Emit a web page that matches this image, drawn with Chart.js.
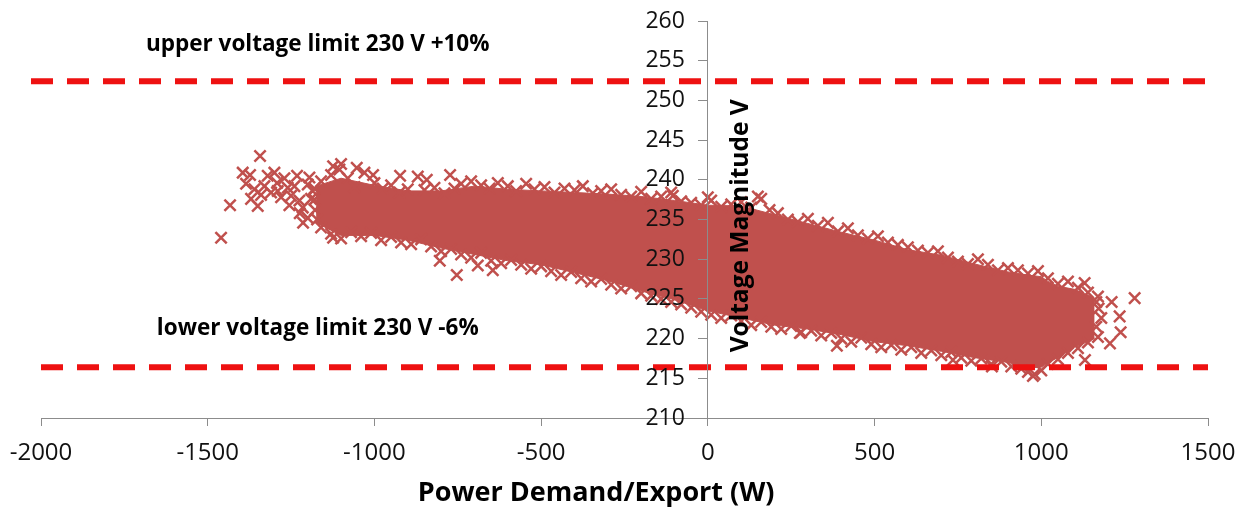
<!DOCTYPE html>
<html>
<head>
<meta charset="utf-8">
<script src="https://cdn.jsdelivr.net/npm/chart.js@4/dist/chart.umd.min.js"></script>
<style>
  body { margin: 0; background: #fff; }
  canvas { display: block; }
</style>
</head>
<body>
<canvas id="myChart" width="1240" height="508"></canvas>
<script>
// axis ranges (W and V)
const xMin = -2000, xMax = 1500, xStep = 500;
const yMin = 210, yMax = 260, yStep = 5;

// voltage limits
const upperLimit = 252.4;
const lowerLimit = 216.4;
const upperLimitX = [-2030, 1525];
const lowerLimitX = [-2000, 1500];

// dense core of the cloud: lower / upper envelope at each power value
const bandX     = [-1175, -1100, -1000, -900, -800, -700, -600, -500, -400, -300, -200, -100,     0,   100,   200,   300,   400,   500,   600,   700,   800,   900,   960,  1000,  1020,  1050,  1100,  1160];
const bandLower = [234.6, 233.0, 233.0, 232.4, 231.4, 230.6, 229.8, 229.3, 228.3, 227.3, 226.0, 224.9, 223.5, 222.6, 221.7, 221.2, 220.5, 219.6, 219.1, 218.4, 217.6, 217.0, 216.3, 216.4, 217.0, 217.6, 218.9, 220.0];
const bandUpper = [239.2, 240.2, 239.3, 238.6, 238.6, 239.2, 238.8, 238.6, 238.4, 238.2, 237.9, 237.4, 236.8, 236.7, 235.6, 234.5, 233.4, 232.4, 231.2, 230.5, 229.4, 228.4, 228.0, 227.8, 227.2, 226.6, 226.2, 225.1];

// single measurements along the top edge of the cloud
const upperEdge = [
  [-1160,239.8],[-1130,240.6],[-1105,241.3],[-1080,240.2],[-1060,239.1],[-1030,240.9],[-1000,239.6],[-975,238.9],
  [-950,239.3],[-925,238.4],[-900,238.8],[-870,240.4],[-850,238.7],[-820,239.0],[-790,238.3],[-760,238.9],
  [-740,239.5],[-710,239.8],[-680,239.3],[-655,238.9],[-630,239.6],[-600,239.2],[-575,238.6],[-545,239.5],
  [-520,238.8],[-490,239.1],[-460,238.4],[-430,238.9],[-400,238.7],[-375,239.2],[-345,238.3],[-320,238.6],
  [-290,238.8],[-260,238.1],[-230,237.9],[-200,238.5],[-170,237.6],[-140,237.9],[-110,238.4],[-80,237.3],
  [-50,237.1],[-20,236.8],[10,237.4],[40,236.6],[70,236.9],[100,237.2],[130,236.5],[160,237.6],
  [185,236.2],[210,235.8],[240,235.0],[270,234.7],[300,235.1],[330,234.2],[360,234.6],[390,233.5],
  [420,233.9],[450,233.0],[480,232.6],[510,232.9],[540,232.1],[570,231.8],[600,231.5],[630,231.1],
  [660,230.8],[690,231.0],[720,230.2],[750,229.7],[780,229.4],[810,230.0],[840,229.3],[870,228.6],
  [900,228.9],[930,228.6],[960,228.2],[990,228.5],[1020,227.6],[1050,226.9],[1080,227.2],[1110,226.4],
  [1140,225.8],[1170,225.3]
];

// single measurements along the bottom edge of the cloud
const lowerEdge = [
  [-1160,234.0],[-1130,233.2],[-1100,232.6],[-1070,233.4],[-1040,232.9],[-1010,233.3],[-980,232.4],[-950,232.8],
  [-920,232.1],[-890,231.9],[-860,232.5],[-830,231.6],[-800,231.0],[-770,231.3],[-740,230.6],[-710,230.2],
  [-680,230.8],[-650,229.8],[-620,229.5],[-590,229.9],[-560,229.3],[-530,228.8],[-500,229.1],[-470,228.5],
  [-440,228.0],[-410,228.4],[-380,227.6],[-350,227.2],[-320,227.5],[-290,226.8],[-260,226.3],[-230,226.6],
  [-200,225.7],[-170,225.4],[-140,225.0],[-110,224.6],[-80,224.3],[-50,223.9],[-20,223.4],[10,223.0],
  [40,222.6],[70,222.9],[100,222.2],[130,221.7],[160,222.1],[190,221.5],[220,221.2],[250,221.6],
  [280,220.8],[310,221.0],[340,220.4],[370,220.7],[400,220.0],[430,219.6],[460,220.1],[490,219.3],
  [520,218.9],[550,219.2],[580,218.6],[610,218.9],[640,218.2],[670,218.5],[700,217.9],[730,218.3],
  [760,217.6],[790,217.2],[820,217.5],[850,216.8],[880,217.1],[910,216.5],[940,216.2],[960,215.8],
  [980,215.5],[1000,216.0],[1020,216.8],[1050,217.4],[1080,218.2],[1110,218.8],[1140,219.5],[1170,220.2]
];

// measurements at the two ends of the core
const endEdge = [
  [-1185,238.6],[-1180,237.5],[-1178,236.2],[-1172,235.0],
  [1165,221.5],[1180,222.6],[1172,223.8],[1165,224.6]
];

// scattered measurements away from the core
const outliers = [
  [-1460,232.7],[-1433,236.8],[-1395,240.9],[-1385,239.5],[-1373,240.6],[-1370,237.6],[-1360,238.8],[-1350,236.7],
  [-1343,243.0],[-1340,238.1],[-1330,239.2],[-1320,240.5],[-1310,238.4],[-1300,240.9],[-1292,239.6],[-1290,238.6],
  [-1280,237.8],[-1270,240.2],[-1260,239.0],[-1255,236.8],[-1250,238.0],[-1240,239.2],[-1232,240.5],[-1225,237.4],
  [-1224,235.8],[-1214,234.6],[-1215,236.5],[-1200,239.4],[-1195,240.3],[-1190,237.6],[-1180,238.9],[-1200,235.2],
  [-1124,241.7],[-1100,242.0],[-1053,241.5],[-1004,240.6],[-923,240.5],[-843,240.0],[-773,240.6],
  [-1124,232.7],[-804,229.8],[-753,228.0],[-690,229.2],[-645,228.6],
  [-105,238.0],[0,237.8],[150,237.9],[276,220.7],[387,219.1],[735,217.3],[852,216.5],[975,215.3],
  [1130,227.0],[1131,217.3],[1206,219.4],[1211,224.6],[1235,222.8],[1238,220.8],[1280,225.1]
];

// labels
const xTitle = "Power Demand/Export (W)";
const yTitle = "Voltage Magnitude V";
const upperLabel = "upper voltage limit 230 V +10%";
const lowerLabel = "lower voltage limit 230 V -6%";

const cloudColor = "#C0504D";
const limitColor = "#EE1111";
const axisColor = "#8c8c8c";
const font = "'Open Sans', Lato, sans-serif";

function toPts(list){
    return list.map(p => ({x: p[0], y: p[1]}));
}

let lowerBand = bandX.map((x, i) => ({x: x, y: bandLower[i]}));
let upperBand = bandX.map((x, i) => ({x: x, y: bandUpper[i]}));
let crosses = toPts(upperEdge).concat(toPts(lowerEdge)).concat(toPts(endEdge)).concat(toPts(outliers));

// texts placed in data coordinates
const textPlugin = {
    id: "texts",
    afterDraw(chart){
        const ctx = chart.ctx;
        const xs = chart.scales.x, ys = chart.scales.y;
        ctx.save();
        ctx.fillStyle = "#000";
        ctx.textAlign = "center";
        ctx.textBaseline = "middle";
        ctx.font = "bold 22.5px " + font;
        ctx.fillText(upperLabel, xs.getPixelForValue(-1170), ys.getPixelForValue(257.0));
        ctx.fillText(lowerLabel, xs.getPixelForValue(-1170), ys.getPixelForValue(221.3));
        // x axis title, a little left of the plot centre as in the original
        ctx.font = "bold 27px " + font;
        ctx.fillText(xTitle, xs.getPixelForValue(-335), 493);
        ctx.translate(xs.getPixelForValue(99), ys.getPixelForValue(234.2));
        ctx.rotate(-Math.PI / 2);
        ctx.font = "bold 24.5px " + font;
        ctx.fillText(yTitle, 0, 0);
        ctx.restore();
    }
};

const data = {
    datasets: [
        {
            type: "line",
            label: "upper limit",
            data: upperLimitX.map(x => ({x: x, y: upperLimit})),
            borderColor: limitColor,
            borderWidth: 6,
            borderDash: [22, 14],
            pointRadius: 0,
            clip: false,
            order: 0
        },
        {
            type: "line",
            label: "lower limit",
            data: lowerLimitX.map(x => ({x: x, y: lowerLimit})),
            borderColor: limitColor,
            borderWidth: 6,
            borderDash: [22, 14],
            pointRadius: 0,
            clip: false,
            order: 0
        },
        {
            type: "scatter",
            label: "measurements",
            data: crosses,
            pointStyle: "crossRot",
            pointRadius: 8,
            borderWidth: 2.5,
            borderColor: cloudColor,
            backgroundColor: cloudColor,
            order: 1
        },
        {
            type: "line",
            label: "core low",
            data: lowerBand,
            borderColor: cloudColor,
            borderWidth: 1,
            pointRadius: 0,
            tension: 0,
            fill: false,
            order: 2
        },
        {
            type: "line",
            label: "core high",
            data: upperBand,
            borderColor: cloudColor,
            backgroundColor: cloudColor,
            borderWidth: 1,
            pointRadius: 0,
            tension: 0,
            fill: 3,
            order: 2
        }
    ]
};

const config = {
    type: "scatter",
    data: data,
    options: {
        responsive: false,
        animation: false,
        devicePixelRatio: 1,
        layout: { padding: { left: 41, right: 32, top: 21, bottom: 0 } },
        plugins: { legend: { display: false }, tooltip: { enabled: false } },
        scales: {
            x: {
                type: "linear",
                min: xMin, max: xMax,
                ticks: {
                    stepSize: xStep, color: "#111", padding: 13, maxRotation: 0,
                    font: { family: font, size: 24 },
                    callback: v => String(v)
                },
                grid: { drawOnChartArea: false, tickLength: 8, color: axisColor },
                border: { color: axisColor, width: 1 },
                title: { display: false },
                afterFit(scale){
                    scale.height = 90;
                    scale.paddingLeft = 0;
                    scale.paddingRight = 0;
                }
            },
            y: {
                type: "linear",
                position: { x: 0 },
                min: yMin, max: yMax,
                ticks: {
                    stepSize: yStep, color: "#111", z: 1,
                    font: { family: font, size: 23 },
                    // en spaces keep the labels clear of the axis line
                    callback: v => String(v) + "\u2002\u2002"
                },
                grid: { drawOnChartArea: false, tickLength: 9, color: axisColor, z: 1 },
                border: { color: axisColor, width: 1, z: 1 },
                afterFit(scale){
                    scale.paddingTop = 0;
                    scale.paddingBottom = 0;
                }
            }
        }
    },
    plugins: [textPlugin]
};

const ctx = document.getElementById("myChart").getContext("2d");
let myChart = new Chart(ctx, config);
</script>
</body>
</html>
